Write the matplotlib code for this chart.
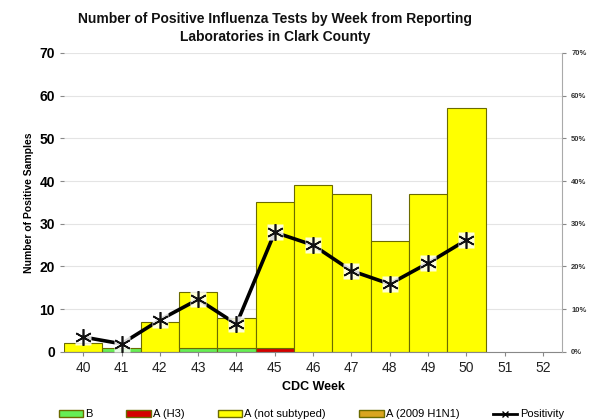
import numpy as np
import matplotlib
matplotlib.use("Agg")
import matplotlib.pyplot as plt
from matplotlib.patches import Patch
from matplotlib.lines import Line2D

plt.rcParams['font.family'] = ['Liberation Sans', 'DejaVu Sans']

weeks = [40, 41, 42, 43, 44, 45, 46, 47, 48, 49, 50, 51, 52]
b_counts = [0, 1, 0, 1, 1, 0, 0, 0, 0, 0, 0, 0, 0]
h3_counts = [0, 0, 0, 0, 0, 1, 0, 0, 0, 0, 0, 0, 0]
not_subtyped = [2, 0, 7, 13, 7, 34, 39, 37, 26, 37, 57, 0, 0]
h1n1_counts = [0, 0, 0, 0, 0, 0, 0, 0, 0, 0, 0, 0, 0]
pos_weeks = [40, 41, 42, 43, 44, 45, 46, 47, 48, 49, 50]
positivity = [3.5, 1.9, 7.5, 12.3, 6.5, 28.0, 25.0, 19.0, 15.9, 20.8, 26.2]

c_b = "#66ee55"
c_h3 = "#d40000"
c_ns = "#ffff00"
c_h1 = "#d9a520"
edge = "#6b6b00"

fig = plt.figure(figsize=(5.93, 4.19), dpi=100)
ax = fig.add_axes([0.108, 0.160, 0.840, 0.714])

x = np.array(weeks)
bottom = np.zeros(len(weeks))
for vals, col in [(b_counts, c_b), (h3_counts, c_h3), (not_subtyped, c_ns), (h1n1_counts, c_h1)]:
    v = np.array(vals, dtype=float)
    mask = v > 0
    ax.bar(x[mask], v[mask], width=1.0, bottom=bottom[mask], color=col,
           edgecolor=edge, linewidth=0.8, zorder=2)
    bottom += v

ax.set_xlim(39.5, 52.5)
ax.set_ylim(0, 70)
ax.set_yticks(range(0, 71, 10))
ax.set_xticks(weeks)
ax.set_xticklabels([str(w) for w in weeks], fontsize=10, color="#222222")
ax.tick_params(axis='y', labelsize=10, length=3, color="#888888")
ax.tick_params(axis='x', length=3, color="#888888")
for lab in ax.get_yticklabels():
    lab.set_fontweight('bold')
ax.yaxis.grid(True, color="#e4e4e4", linewidth=0.8, zorder=0)
ax.set_axisbelow(True)
for s in ['top', 'right']:
    ax.spines[s].set_visible(False)
ax.spines['left'].set_visible(False)
ax.spines['bottom'].set_color("#888888")
ax.set_ylabel("Number of Positive Samples", fontsize=7.5, fontweight='bold')
ax.set_xlabel("CDC Week", fontsize=9, fontweight='bold', labelpad=4)

ax2 = ax.twinx()
ax2.set_ylim(0, 70)
ax2.set_yticks(range(0, 71, 10))
ax2.set_yticklabels([f"{t}%" for t in range(0, 71, 10)], fontsize=5.5, fontweight='bold', color="#333333")
ax2.tick_params(axis='y', length=3, color="#888888")
for s in ['top', 'left', 'bottom']:
    ax2.spines[s].set_visible(False)
ax2.spines['right'].set_color("#aaaaaa")
ax2.plot(pos_weeks, positivity, color="black", linewidth=2.6, zorder=3)
ax2.plot(pos_weeks, positivity, linestyle='none', marker='s', markersize=11,
         markerfacecolor='white', markeredgecolor='none', alpha=0.85, zorder=4)
ax2.plot(pos_weeks, positivity, linestyle='none', marker=(6, 2, 0), markersize=12,
         markeredgecolor='#111111', markeredgewidth=1.2, zorder=5)

fig.suptitle("Number of Positive Influenza Tests by Week from Reporting\nLaboratories in Clark County",
             fontsize=10, fontweight='bold', y=0.972, x=0.464, color="#111111",
             linespacing=1.35)

handles = [Patch(facecolor=c_b, edgecolor=edge, label="B"),
           Patch(facecolor=c_h3, edgecolor=edge, label="A (H3)"),
           Patch(facecolor=c_ns, edgecolor=edge, label="A (not subtyped)"),
           Patch(facecolor=c_h1, edgecolor=edge, label="A (2009 H1N1)"),
           Line2D([0], [0], color='black', linewidth=2, marker='x', markersize=5, label="Positivity")]
fig.legend(handles=handles, loc='lower center', ncol=5, frameon=False, fontsize=8,
           bbox_to_anchor=(0.525, -0.025), handlelength=2.2, handleheight=0.6,
           handletextpad=0.2, columnspacing=3.0)

fig.savefig("out.png", dpi=100)
